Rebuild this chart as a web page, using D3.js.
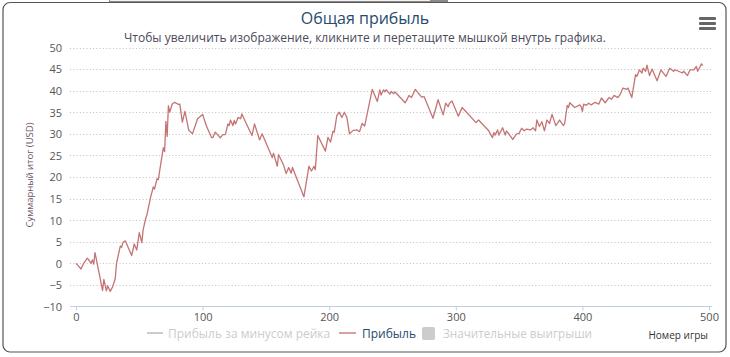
<!DOCTYPE html>
<html><head><meta charset="utf-8">
<script src="https://cdn.jsdelivr.net/npm/d3@7"></script>
<style>
html,body{margin:0;padding:0;background:#fff;}
svg{display:block;font-family:"Open Sans",sans-serif;}
</style></head>
<body>
<script>
const titleText = "Общая прибыль";
const subtitleText = "Чтобы увеличить изображение, кликните и перетащите мышкой внутрь графика.";
const yAxisTitle = "Суммарный итог (USD)";
const xAxisTitle = "Номер игры";
const legendItems = ["Прибыль за минусом рейка", "Прибыль", "Значительные выигрыши"];
const xTicks = [0, 100, 200, 300, 400, 500];
const yTicks = [-10, -5, 0, 5, 10, 15, 20, 25, 30, 35, 40, 45, 50];

const games = [0,4,6,9,12,13,14,15,17,21,22,24,25,27,29,31,32,35,36,37,39,44,46,48,50,52,53,55,56,59,60,61,62,64,65,68,69,70,71,72,73,74,76,78,81,82,84,86,89,92,96,100,103,
107,108,110,114,116,118,120,121,122,124,125,126,128,130,131,134,139,141,145,147,155,156,159,160,164,166,168,170,171,180,184,186,188,189,191,197,199,201,203,204,206,208,210,212,214,216,219,222,
224,226,228,234,238,240,241,243,244,245,248,249,251,252,260,261,263,265,268,273,275,282,286,290,292,294,295,297,302,305,316,318,326,329,330,331,333,334,337,339,340,345,348,350,352,354,356,
359,361,363,364,366,368,370,372,374,376,379,382,385,386,388,389,390,394,398,399,400,401,403,405,407,410,413,415,418,421,423,425,428,430,432,435,436,439,442,443,445,447,448,450,451,453,455,459,462,466,469,472,473,476,479,480,483,485,488,490,491,493,494,495];
const profit = [0,-1.3,0,1.2,0,0.8,-0.2,2.5,-0.4,-6.3,-3.7,-6.4,-5.2,-6.5,-5.4,-3.5,0,4,3.7,4.8,5.2,1.8,4.5,3.1,7.1,4.8,7.7,10.4,11.2,15.4,16.5,17.7,17.2,19.6,19.4,25,26.8,25.9,32.9,29.4,36.5,35,36.9,37.3,36.8,36.9,32.7,35.2,30.9,30,33.5,34.5,31.8,
29.2,29.1,30.4,29.1,29.8,29.8,32.3,31.9,33.2,31.9,33.1,32.3,33.8,33.5,34.6,32.7,29.6,32.3,28.6,30,24.5,25.5,22.5,25.2,22.7,20.8,22.2,20.9,22.2,15.4,22.5,21.4,22.5,21.7,29.6,26,29.2,28.1,30.6,30.4,34.2,35,33.8,35,33.8,30,30.8,30.9,
30.5,32.4,31.8,40.3,37.5,40.2,39,40.2,39.7,40.2,39.2,39.8,39.3,39.7,37.2,37.7,38.9,38.4,40.3,38.5,38.6,33.6,37.9,34.4,37.1,36.3,37.1,37.6,34.1,36.1,32.6,33.2,30.7,29.1,30.3,29.7,30.9,29.7,31.4,29.7,30.7,28.7,30,30.1,31.3,30.7,31.1,
30.9,31.4,30.7,33.2,31.7,32.8,30.7,33.2,32.4,34.5,31.9,33.2,31.9,32.4,36.6,36.1,37.2,36.1,36.7,36.3,35.2,36.9,36.6,37.1,36.7,37.3,36.9,38.3,37.2,38.4,38,38.9,38.4,39.2,40.6,40.3,40.6,38.4,43.7,43.3,44.8,44.1,45.2,44.5,45.9,43.5,45,42.3,44.8,43.3,45.2,44.5,44.8,44.5,44.1,44.5,43.5,44.8,44.8,45.6,44.5,45.6,46.2,45.8];

const W = 730, H = 357;
const svg = d3.select("body").append("svg").attr("width", W).attr("height", H);

// page artefact above chart
svg.append("rect").attr("x", 109.5).attr("y", -2).attr("width", 338).attr("height", 3.5)
  .attr("fill", "#f2f2f2").attr("stroke", "#8a8a8a").attr("stroke-width", 1);
svg.append("rect").attr("x", 430).attr("y", -1).attr("width", 17).attr("height", 2.5).attr("fill", "#8a8a8a");

// chart border
svg.append("rect").attr("x", 3).attr("y", 2.5).attr("width", 723).attr("height", 349.5)
  .attr("rx", 7).attr("fill", "none").attr("stroke", "#555").attr("stroke-width", 1.2);

const x = d3.scaleLinear().domain([0, 500]).range([76, 709]);
const y = d3.scaleLinear().domain([-10, 50]).range([306.5, 47.5]);
const plotLeft = 70, plotRight = 712;

// grid
svg.append("g").selectAll("line").data(yTicks.filter(d => d > -10)).join("line")
  .attr("x1", plotLeft).attr("x2", plotRight)
  .attr("y1", d => Math.round(y(d)) + 0.5).attr("y2", d => Math.round(y(d)) + 0.5)
  .attr("stroke", "#c0c0c0").attr("stroke-width", 1).attr("stroke-dasharray", "1,2.3");

// y axis labels
const yAxis = d3.axisLeft(y).tickValues(yTicks).tickSize(0).tickPadding(0);
const yg = svg.append("g").attr("transform", "translate(62,0)").call(yAxis);
yg.select(".domain").remove();
yg.selectAll("text").attr("font-family", "Open Sans").attr("font-size", 11).attr("fill", "#555").attr("dy", "0.35em");

// x axis
const xAxis = d3.axisBottom(x).tickValues(xTicks).tickSize(4).tickPadding(3);
const xg = svg.append("g").attr("transform", "translate(0,306.5)").call(xAxis);
xg.select(".domain").attr("d", `M${plotLeft},0H${plotRight}`).attr("stroke", "#c0d0e0");
xg.selectAll(".tick line").attr("stroke", "#c0d0e0");
xg.selectAll("text").attr("font-family", "Open Sans").attr("font-size", 11).attr("fill", "#555");

// line
const pts = games.map((g, i) => [g, profit[i]]);
svg.append("path").datum(pts)
  .attr("d", d3.line().x(d => x(d[0])).y(d => y(d[1])))
  .attr("fill", "none").attr("stroke", "#c47474").attr("stroke-width", 1.3).attr("stroke-linejoin", "round");

// titles
svg.append("text").attr("x", 365).attr("y", 24).attr("text-anchor", "middle")
  .attr("font-size", 16).attr("fill", "#274b6d").text(titleText);
svg.append("text").attr("x", 365).attr("y", 42).attr("text-anchor", "middle")
  .attr("font-size", 12).attr("fill", "#4a4a5a").text(subtitleText);

svg.append("text").attr("transform", "translate(33,175) rotate(-90)").attr("text-anchor", "middle")
  .attr("font-size", 9.5).attr("fill", "#6b5566").text(yAxisTitle);
svg.append("text").attr("x", 708).attr("y", 339).attr("text-anchor", "end")
  .attr("font-size", 10).attr("fill", "#333").text(xAxisTitle);

// legend
const lg = svg.append("g");
lg.append("line").attr("x1", 147).attr("x2", 163).attr("y1", 333).attr("y2", 333).attr("stroke", "#cccccc").attr("stroke-width", 2);
lg.append("text").attr("x", 168).attr("y", 337.5).attr("font-size", 12).attr("fill", "#cccccc").text(legendItems[0]);
lg.append("line").attr("x1", 339).attr("x2", 356).attr("y1", 333).attr("y2", 333).attr("stroke", "#d8a0a0").attr("stroke-width", 2);
lg.append("text").attr("x", 362).attr("y", 337.5).attr("font-size", 12).attr("fill", "#274b6d").text(legendItems[1]);
lg.append("rect").attr("x", 422).attr("y", 327).attr("width", 13).attr("height", 13).attr("rx", 2).attr("fill", "#cccccc");
lg.append("text").attr("x", 443).attr("y", 337.5).attr("font-size", 11.7).attr("fill", "#cccccc").text(legendItems[2]);

// menu icon
svg.append("g").selectAll("rect").data([0, 1, 2]).join("rect")
  .attr("x", 699).attr("y", d => 17 + d * 5).attr("width", 17).attr("height", 3).attr("rx", 1).attr("fill", "#666");
</script>
</body></html>
